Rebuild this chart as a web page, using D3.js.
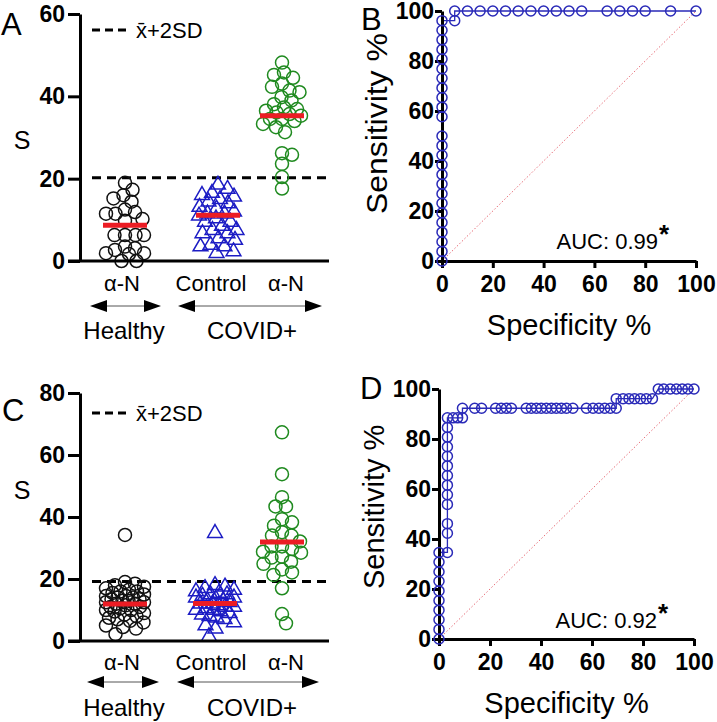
<!DOCTYPE html>
<html>
<head>
<meta charset="utf-8">
<script src="https://cdn.jsdelivr.net/npm/d3@7"></script>
<style>
  body { margin: 0; background: #fff; }
  svg { display: block; font-family: 'Liberation Sans', Arial, sans-serif; }
  .tick text { font-weight: bold; font-size: 23px; fill: #000; }
</style>
</head>
<body>
<div id="chart"></div>
<script>
// ---- data ----
const groupKeys = ['healthy', 'control', 'covid'];
const groupLabels = ['α-N', 'Control', 'α-N'];
const cohortLabels = ['Healthy', 'COVID+'];
const legendLabel = 'x\u0304+2SD';

// panel A
const aHealthy = [19.0, 17.3, 16.0, 15.2, 14.4, 12.5, 11.9, 11.5, 11.5, 10.2, 9.8, 6.3, 6.3, 6.3, 6.3, 3.5, 3.1, 2.7, 1.9, 1.7, 1.9, 0, 0];
const aControl = [18.5, 17.5, 16.5, 16, 15.6, 15, 14.4, 14, 13.1, 12.7, 12, 11.5, 11.5, 11, 10.3, 9.5, 9.5, 8.5, 7.5, 7.5, 6.7, 6.7, 5.5, 5.1, 3.9, 3.5, 3.5, 2.3, 1.9];
const aCovid = [48.2, 45.8, 45.2, 44.5, 43.1, 42.3, 41.4, 41, 39.8, 39, 38.1, 37.3, 36.9, 36.5, 36.1, 35.7, 35.3, 34.5, 34.5, 34, 33.3, 32.5, 31.3, 26.2, 25.8, 23.6, 20.4, 17.6];
const aMeans = [8.7, 11.1, 35.3];
const aThreshold = 20.2;
const aTicks = [0, 20, 40, 60];

// panel C
const cHealthy = [34.2, 19, 18.5, 18, 17.5, 17, 16.5, 16, 16, 15.5, 15, 14.5, 14.5, 14, 14, 13.5, 13.5, 13, 13, 12.5, 12.5, 12, 12, 11.5, 11, 11, 10.5, 10, 10, 9.5, 9, 8.5, 8, 7.5, 7, 6.5, 6, 5, 4.5, 4, 2.2];
const cControl = [34.8, 18, 17.5, 17, 16.5, 16, 15.5, 15, 15, 14.5, 14, 14, 13.5, 13, 13, 12.5, 12, 12, 11.5, 11, 11, 10.5, 10, 10, 9.5, 9, 8.5, 8, 7.5, 7, 6, 5, 4, 1.5];
const cCovid = [67.3, 53.8, 46.4, 43.4, 43.4, 39.3, 38.3, 37.2, 35.1, 34, 34, 32.1, 30.5, 30.5, 29.7, 28.5, 28.8, 26.9, 27.2, 25.6, 24.9, 23.1, 22.1, 21.3, 17, 8.7, 5.7];
const cMeans = [11.9, 12.1, 31.9];
const cThreshold = 19.2;
const cTicks = [0, 20, 40, 60, 80];

// ROC curves (specificity %, sensitivity %)
const rocTicks = [0, 20, 40, 60, 80, 100];
const rocBSpec = [0, 0, 0, 0, 0, 0, 0, 0, 0, 0, 0, 0, 0, 0, 0, 0, 0, 0, 0, 0, 0, 0, 0, 0, 0,
  5, 5, 10, 15, 20, 25, 30, 35, 40, 45, 50, 55, 65, 70, 75, 80, 90, 100];
const rocBSens = [0, 3.85, 7.69, 11.54, 15.38, 19.23, 23.08, 26.92, 30.77, 34.62, 38.46, 42.31, 46.15, 50,
  57.69, 61.54, 65.38, 69.23, 73.08, 76.92, 80.77, 84.62, 88.46, 92.31, 96.15,
  96.15, 100, 100, 100, 100, 100, 100, 100, 100, 100, 100, 100, 100, 100, 100, 100, 100, 100];
const rocDSpec = [0, 0, 0, 0, 0, 0, 0, 0, 0, 0,
  3.3, 3.3, 3.3, 3.3, 3.3, 3.3, 3.3, 3.3, 3.3, 3.3, 3.3, 3.3, 3.3,
  5.5, 7.3, 9.2, 9.2, 14, 16.7, 22.2, 24.4, 26.4, 28.4, 34.2, 36.2, 38.2, 40.1, 42.1, 44.1, 46, 48, 50, 52.5,
  57.8, 60.4, 62.7, 65, 67.2, 69.5, 69.5, 72.2, 74.5, 76.7, 79, 81.3, 83.7,
  86, 88.1, 90.7, 93.1, 95.4, 97.6, 100];
const rocDSens = [0, 3.85, 7.69, 11.54, 15.38, 19.23, 23.08, 26.92, 30.77, 34.62,
  34.62, 42.31, 46.15, 53.85, 57.69, 61.54, 65.38, 69.23, 73.08, 76.92, 80.77, 84.62, 88.46,
  88.46, 88.46, 88.46, 92.31, 92.31, 92.31, 92.31, 92.31, 92.31, 92.31, 92.31, 92.31, 92.31, 92.31, 92.31, 92.31, 92.31, 92.31, 92.31, 92.31,
  92.31, 92.31, 92.31, 92.31, 92.31, 92.31, 96.15, 96.15, 96.15, 96.15, 96.15, 96.15, 96.15,
  100, 100, 100, 100, 100, 100, 100];
const aucB = '0.99';
const aucD = '0.92';

// ---- drawing ----
const W = 717, H = 722;
const colors = { healthy: '#111', control: '#1c1cc4', covid: '#1f8a1f' };
const red = '#ec1c24';
const rocBlue = '#2a2ab8';

const svg = d3.select('#chart').append('svg')
  .attr('width', W).attr('height', H)
  .attr('viewBox', `0 0 ${W} ${H}`);
svg.append('rect').attr('width', W).attr('height', H).attr('fill', '#fff');

// quick beeswarm so overlapping points spread sideways
function swarm(vals, y, r, maxOff) {
  const pts = vals.map(v => ({ v, y: y(v) })).sort((a, b) => b.v - a.v);
  const placed = [];
  const minSep = r * 1.55;
  const cands = [0];
  for (let o = 0.5; o <= maxOff; o += 0.5) cands.push(o, -o);
  pts.forEach(p => {
    let pick = 0, bestD = -1;
    for (const o of cands) {
      let d = Infinity;
      for (const q of placed) d = Math.min(d, Math.hypot(o - q.dx, p.y - q.y));
      if (d >= minSep) { pick = o; bestD = d; break; }
      if (d > bestD) { bestD = d; pick = o; }
    }
    p.dx = pick;
    placed.push(p);
  });
  return pts;
}

function arrow(g, x1, x2, y) {
  g.append('line').attr('x1', x1 + 14).attr('x2', x2 - 14)
    .attr('y1', y).attr('y2', y).attr('stroke', '#555').attr('stroke-width', 1);
  g.append('path').attr('d', `M${x1},${y}L${x1 + 17},${y - 6}L${x1 + 17},${y + 6}Z`).attr('fill', '#000');
  g.append('path').attr('d', `M${x2},${y}L${x2 - 17},${y - 6}L${x2 - 17},${y + 6}Z`).attr('fill', '#000');
}

function scatterPanel(o) {
  const g = svg.append('g');
  const y = d3.scaleLinear().domain([0, d3.max(o.ticks)]).range([o.bottom, o.top]);
  const x = d3.scaleOrdinal().domain(groupKeys).range(o.centers);

  // threshold + legend
  g.append('line').attr('x1', o.axisX + 12).attr('x2', o.right)
    .attr('y1', y(o.threshold)).attr('y2', y(o.threshold))
    .attr('stroke', '#000').attr('stroke-width', 3).attr('stroke-dasharray', '9,6');
  g.append('line').attr('x1', o.axisX + 12).attr('x2', o.axisX + 46)
    .attr('y1', o.legendY).attr('y2', o.legendY)
    .attr('stroke', '#000').attr('stroke-width', 3).attr('stroke-dasharray', '8,5');
  g.append('text').attr('x', o.axisX + 56).attr('y', o.legendY + 8)
    .attr('font-size', 22).text(legendLabel);

  // points
  o.series.forEach((vals, i) => {
    const key = groupKeys[i];
    const pts = swarm(vals, y, 6.5, 19);
    const sel = g.append('g').selectAll('.pt').data(pts).join(i === 1 ? 'path' : 'circle')
      .attr('fill', 'none').attr('stroke', colors[key]).attr('stroke-width', 1.5);
    if (i === 1) {
      sel.attr('d', d3.symbol(d3.symbolTriangle).size(95))
        .attr('transform', d => `translate(${x(key) + d.dx},${d.y})`);
    } else {
      sel.attr('cx', d => x(key) + d.dx).attr('cy', d => d.y).attr('r', 6.5);
    }
  });

  // means
  g.append('g').selectAll('line').data(o.means).join('line')
    .attr('x1', (d, i) => x(groupKeys[i]) - 22).attr('x2', (d, i) => x(groupKeys[i]) + 22)
    .attr('y1', d => y(d)).attr('y2', d => y(d))
    .attr('stroke', red).attr('stroke-width', 5);

  // axes
  const ax = g.append('g').attr('transform', `translate(${o.axisX},0)`)
    .call(d3.axisLeft(y).tickValues(o.ticks).tickSize(12).tickSizeOuter(0).tickPadding(3));
  ax.select('.domain').attr('stroke-width', 3);
  ax.selectAll('.tick line').attr('stroke-width', 3);
  g.append('line').attr('x1', o.axisX - 12).attr('x2', o.right)
    .attr('y1', o.bottom).attr('y2', o.bottom).attr('stroke', '#000').attr('stroke-width', 3);

  g.append('text').attr('x', 22).attr('y', o.sY).attr('text-anchor', 'middle')
    .attr('dominant-baseline', 'central').attr('font-size', 25).text('S');
  g.append('text').attr('x', o.letter[1]).attr('y', o.letter[2]).attr('font-size', 31).text(o.letter[0]);

  // category labels
  g.append('g').selectAll('text').data(groupLabels).join('text')
    .attr('x', (d, i) => o.labelX[i]).attr('y', o.labelY)
    .attr('text-anchor', 'middle').attr('dominant-baseline', 'central')
    .attr('font-size', 22).text(d => d);
  arrow(g, o.arrows[0][0], o.arrows[0][1], o.arrowY);
  arrow(g, o.arrows[1][0], o.arrows[1][1], o.arrowY);
  g.append('g').selectAll('text').data(cohortLabels).join('text')
    .attr('x', (d, i) => o.cohortX[i]).attr('y', o.cohortY)
    .attr('text-anchor', 'middle').attr('dominant-baseline', 'central')
    .attr('font-size', 24).text(d => d);
}

function rocPanel(o) {
  const g = svg.append('g');
  const x = d3.scaleLinear().domain([0, 100]).range([o.left, o.right]);
  const y = d3.scaleLinear().domain([0, 100]).range([o.bottom, o.top]);
  const pts = o.spec.map((s, i) => ({ s, v: o.sens[i] }));

  g.append('line').attr('x1', x(0)).attr('y1', y(0)).attr('x2', x(100)).attr('y2', y(100))
    .attr('stroke', '#e8707a').attr('stroke-width', 1).attr('stroke-dasharray', '1.5,2');

  g.append('path').datum(pts)
    .attr('d', d3.line().x(d => x(d.s)).y(d => y(d.v)))
    .attr('fill', 'none').attr('stroke', rocBlue).attr('stroke-width', 1.3);

  const xa = g.append('g').attr('transform', `translate(0,${o.bottom})`)
    .call(d3.axisBottom(x).tickValues(rocTicks).tickSize(7).tickSizeOuter(0).tickPadding(8));
  const ya = g.append('g').attr('transform', `translate(${o.left},0)`)
    .call(d3.axisLeft(y).tickValues(rocTicks).tickSize(7).tickSizeOuter(0).tickPadding(1));
  [xa, ya].forEach(a => {
    a.select('.domain').attr('stroke-width', 3);
    a.selectAll('.tick line').attr('stroke-width', 3);
    a.selectAll('.tick text').attr('font-size', 25);
  });

  g.append('g').selectAll('circle').data(pts).join('circle')
    .attr('cx', d => x(d.s)).attr('cy', d => y(d.v)).attr('r', 5)
    .attr('fill', 'none').attr('stroke', rocBlue).attr('stroke-width', 1.5);

  const auc = g.append('text').attr('x', o.aucX).attr('y', o.aucY).attr('font-size', 22)
    .attr('text-anchor', 'end');
  auc.append('tspan').text('AUC: ' + o.auc);
  g.append('text').attr('x', o.aucX + 1).attr('y', o.aucY - 6).attr('font-size', 26)
    .attr('font-weight', 'bold').text('*');

  g.append('text').attr('x', (o.left + o.right) / 2).attr('y', o.bottom + 64)
    .attr('text-anchor', 'middle').attr('dominant-baseline', 'central')
    .attr('font-size', 29).text('Specificity %');
  // rotated title, laid out from its bottom end, stretched along its length
  g.append('text')
    .attr('transform', `translate(${o.left - 55},${o.titleBottom}) rotate(-90) scale(${o.titleStretch},1)`)
    .attr('text-anchor', 'start').attr('font-size', 29)
    .text('Sensitivity %');
  g.append('text').attr('x', o.letter[1]).attr('y', o.letter[2]).attr('font-size', 31).text(o.letter[0]);
}

scatterPanel({
  letter: ['A', 1, 35], series: [aHealthy, aControl, aCovid], means: aMeans,
  threshold: aThreshold, ticks: aTicks, top: 14, bottom: 261, axisX: 80, right: 329,
  centers: [125, 218, 282], legendY: 30, sY: 140,
  labelX: [122, 211, 286], labelY: 283, arrowY: 306, arrows: [[90, 161], [178, 322]],
  cohortX: [124, 252], cohortY: 330
});
scatterPanel({
  letter: ['C', 2, 421], series: [cHealthy, cControl, cCovid], means: cMeans,
  threshold: cThreshold, ticks: cTicks, top: 393, bottom: 641, axisX: 80, right: 329,
  centers: [125, 215, 282], legendY: 413, sY: 490,
  labelX: [122, 211, 286], labelY: 662, arrowY: 682, arrows: [[87, 159], [177, 319]],
  cohortX: [124, 252], cohortY: 707
});
rocPanel({
  letter: ['B', 361, 30], spec: rocBSpec, sens: rocBSens, auc: aucB,
  left: 442, right: 696, top: 11, bottom: 261, aucX: 658, aucY: 249,
  titleBottom: 214, titleStretch: 1.1
});
rocPanel({
  letter: ['D', 360, 399], spec: rocDSpec, sens: rocDSens, auc: aucD,
  left: 439, right: 694, top: 389, bottom: 639, aucX: 657, aucY: 628,
  titleBottom: 589, titleStretch: 1
});
</script>
</body>
</html>
